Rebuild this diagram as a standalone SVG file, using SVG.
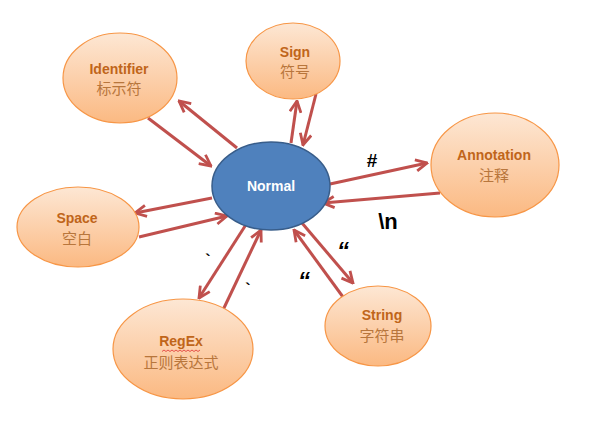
<svg xmlns="http://www.w3.org/2000/svg" width="600" height="423" viewBox="0 0 600 423">
<defs>
<linearGradient id="og" x1="0" y1="0" x2="0" y2="1">
<stop offset="0" stop-color="#FDE7D4"/>
<stop offset="1" stop-color="#FBB982"/>
</linearGradient>
<marker id="ah" viewBox="0 0 10 10" refX="9" refY="5" markerWidth="14" markerHeight="14" markerUnits="userSpaceOnUse" orient="auto">
<path d="M1,1 L9,5 L1,9" fill="none" stroke="#C0504D" stroke-width="2" stroke-linejoin="miter"/>
</marker>
</defs>
<style>
.n{fill:url(#og);stroke:#F79646;stroke-width:1.2}
.en{font-family:"Liberation Sans",Arial,sans-serif;font-weight:bold;font-size:14px;fill:#C0651A;text-anchor:middle}
.zh{font-family:"Noto Sans CJK SC","Liberation Sans",sans-serif;font-size:15px;fill:#B8763C;text-anchor:middle}
.c line{stroke:#C0504D;stroke-width:3;marker-end:url(#ah)}
.lb{font-family:"Liberation Sans",Arial,sans-serif;font-weight:bold;fill:#000;text-anchor:middle}
</style>
<rect width="600" height="423" fill="#fff"/>
<g class="c" id="connectors">
<line x1="148" y1="118" x2="211" y2="166"/>
<line x1="237" y1="148" x2="179" y2="101"/>
<line x1="291" y1="143" x2="297" y2="101"/>
<line x1="316" y1="94" x2="303" y2="145"/>
<line x1="330" y1="184" x2="427" y2="163"/>
<line x1="440" y1="193" x2="323" y2="203"/>
<line x1="212" y1="198" x2="135" y2="213"/>
<line x1="139" y1="237" x2="227" y2="216"/>
<line x1="247" y1="223" x2="199" y2="298"/>
<line x1="223" y1="310" x2="261" y2="230"/>
<line x1="343" y1="297" x2="294" y2="230"/>
<line x1="302" y1="223" x2="353" y2="283"/>
<text class="lb" x="372" y="167" font-size="19">#</text>
<text class="lb" x="388" y="229" font-size="22">\n</text>
<text class="lb" x="208" y="266" font-size="16">`</text>
<text class="lb" x="248" y="295" font-size="16">`</text>
<text class="lb" x="343" y="259" font-size="24" font-style="italic">“</text>
<text class="lb" x="304" y="289" font-size="24" font-style="italic">“</text>
</g>
<g id="identifier">
<ellipse class="n" cx="120" cy="78" rx="57" ry="45"/>
<text class="en" x="119" y="74">Identifier</text>
<text class="zh" x="119" y="94">标示符</text>
</g>
<g id="sign">
<ellipse class="n" cx="293" cy="61" rx="47" ry="38"/>
<text class="en" x="295" y="57">Sign</text>
<text class="zh" x="295" y="77">符号</text>
</g>
<g id="annotation">
<ellipse class="n" cx="495" cy="165" rx="64" ry="52"/>
<text class="en" x="494" y="160">Annotation</text>
<text class="zh" x="494" y="181">注释</text>
</g>
<g id="space">
<ellipse class="n" cx="78" cy="227" rx="61" ry="40"/>
<text class="en" x="77" y="223">Space</text>
<text class="zh" x="77" y="244">空白</text>
</g>
<g id="regex">
<ellipse class="n" cx="183" cy="349" rx="70" ry="50"/>
<text class="en" x="181" y="346">RegEx</text>
<path d="M162,351.5 l2,-1.5 l2,1.5 l2,-1.5 l2,1.5 l2,-1.5 l2,1.5 l2,-1.5 l2,1.5 l2,-1.5 l2,1.5 l2,-1.5 l2,1.5 l2,-1.5 l2,1.5 l2,-1.5 l2,1.5 l2,-1.5 l2,1.5 l2,-1.5" fill="none" stroke="#E03030" stroke-width="0.8"/>
<text class="zh" x="181" y="368">正则表达式</text>
</g>
<g id="string">
<ellipse class="n" cx="378" cy="326" rx="53" ry="40"/>
<text class="en" x="382" y="320">String</text>
<text class="zh" x="382" y="341">字符串</text>
</g>
<g id="normal">
<ellipse cx="271" cy="186" rx="59" ry="44" fill="#4F81BD" stroke="#385D8A" stroke-width="1.5"/>
<text x="271" y="191" font-family="Liberation Sans,Arial,sans-serif" font-weight="bold" font-size="14" fill="#fff" text-anchor="middle">Normal</text>
</g>
</svg>
